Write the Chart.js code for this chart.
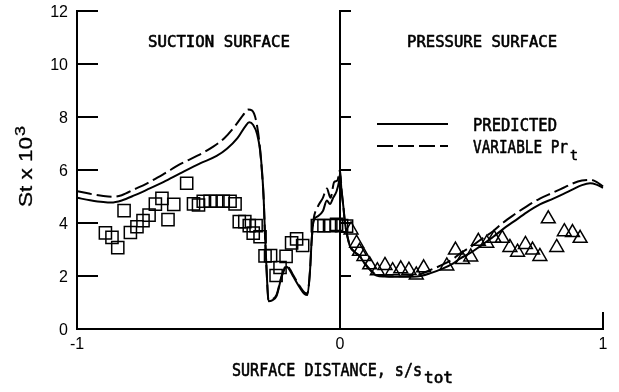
<!DOCTYPE html>
<html>
<head>
<meta charset="utf-8">
<script src="https://cdn.jsdelivr.net/npm/chart.js@4"></script>
<style>
  html, body { margin: 0; padding: 0; background: #fff; }
  canvas { display: block; }
</style>
</head>
<body>
<canvas id="chart" width="619" height="392"></canvas>
<script>
// Predicted Stanton number distribution (solid line), s/s_tot from -1 (suction) to 1 (pressure)
const predS = [-1.0, -0.95, -0.9, -0.87, -0.83, -0.78, -0.735, -0.67, -0.608, -0.532,
  -0.469, -0.43, -0.39, -0.36, -0.345, -0.33, -0.315, -0.304, -0.296, -0.29,
  -0.285, -0.279, -0.272, -0.258, -0.241, -0.222, -0.203, -0.19, -0.177, -0.152,
  -0.135, -0.124, -0.114, -0.108, -0.101, -0.085, -0.065, -0.05, -0.038, -0.026,
  -0.013, -0.004, 0.0, 0.006, 0.013, 0.019, 0.028, 0.038, 0.055, 0.076,
  0.095, 0.114, 0.139, 0.17, 0.203, 0.25, 0.291, 0.342, 0.39, 0.431,
  0.456, 0.5, 0.532, 0.583, 0.621, 0.66, 0.71, 0.76, 0.811, 0.85,
  0.887, 0.92, 0.951, 0.975, 1.0];
const predSt = [4.95, 4.86, 4.79, 4.77, 4.85, 5.05, 5.25, 5.55, 5.87, 6.25,
  6.53, 6.8, 7.2, 7.65, 7.8, 7.7, 7.35, 6.75, 5.9, 4.87,
  3.5, 2.2, 1.05, 1.08, 1.25, 1.97, 2.35, 2.2, 1.97, 1.55,
  1.32, 1.28, 2.2, 3.3, 4.05, 4.25, 4.45, 4.85, 4.72, 4.95,
  5.2, 5.55, 5.85, 5.2, 4.6, 4.0, 3.5, 3.12, 2.9, 2.73,
  2.45, 2.23, 2.02, 1.98, 1.97, 1.97, 1.98, 2.1, 2.28, 2.48,
  2.65, 2.9, 3.12, 3.48, 3.78, 4.05, 4.4, 4.7, 4.92, 5.1,
  5.28, 5.43, 5.5, 5.45, 5.33];

// Prediction with variable turbulent Prandtl number (dashed line)
const varS = [-1.0, -0.95, -0.9, -0.862, -0.83, -0.78, -0.735, -0.67, -0.608, -0.54,
  -0.482, -0.44, -0.4, -0.37, -0.35, -0.335, -0.32, -0.306, -0.297, -0.29,
  -0.285, -0.279, -0.272, -0.258, -0.241, -0.222, -0.203, -0.19, -0.177, -0.152,
  -0.135, -0.124, -0.114, -0.108, -0.101, -0.085, -0.065, -0.05, -0.036, -0.022,
  -0.01, 0.0, 0.006, 0.013, 0.019, 0.028, 0.038, 0.055, 0.076, 0.095,
  0.114, 0.139, 0.17, 0.203, 0.25, 0.291, 0.342, 0.39, 0.431, 0.456,
  0.5, 0.532, 0.583, 0.621, 0.66, 0.71, 0.76, 0.811, 0.85, 0.887,
  0.92, 0.951, 0.975, 1.0];
const varSt = [5.2, 5.1, 5.02, 4.99, 5.05, 5.28, 5.49, 5.85, 6.22, 6.55,
  6.88, 7.2, 7.65, 8.05, 8.28, 8.25, 7.9, 7.0, 5.95, 4.87,
  3.5, 2.2, 1.1, 1.12, 1.3, 2.0, 2.4, 2.25, 2.02, 1.6,
  1.38, 1.35, 2.2, 3.3, 4.1, 4.6, 4.95, 5.3, 4.95, 5.55,
  5.6, 6.0, 5.25, 4.6, 4.0, 3.5, 3.15, 2.92, 2.75, 2.48,
  2.25, 2.05, 2.0, 1.99, 1.99, 2.03, 2.22, 2.43, 2.65, 2.85,
  3.12, 3.35, 3.7, 4.02, 4.3, 4.63, 4.92, 5.15, 5.33, 5.5,
  5.6, 5.63, 5.55, 5.38];

// Measured data, suction surface (squares)
const suctionS = [-0.892, -0.867, -0.845, -0.821, -0.797, -0.772, -0.749, -0.726, -0.702, -0.677,
  -0.654, -0.632, -0.583, -0.557, -0.538, -0.52, -0.494, -0.469, -0.444, -0.418,
  -0.399, -0.383, -0.362, -0.345, -0.33, -0.319, -0.304, -0.285, -0.264, -0.243,
  -0.228, -0.205, -0.184, -0.165, -0.142, -0.086, -0.061, -0.035, -0.013, 0.006,
  0.025];
const suctionSt = [3.63, 3.46, 3.07, 4.47, 3.64, 3.86, 4.09, 4.3, 4.71, 4.93,
  4.13, 4.7, 5.5, 4.72, 4.68, 4.82, 4.82, 4.82, 4.82, 4.82,
  4.72, 4.05, 4.05, 3.9, 3.62, 3.9, 3.48, 2.76, 2.77, 2.02,
  2.32, 2.74, 3.25, 3.4, 3.15, 3.9, 3.9, 3.9, 3.95, 3.9,
  3.88];

// Measured data, pressure surface (triangles)
const pressureS = [0.042, 0.063, 0.074, 0.091, 0.113, 0.142, 0.171, 0.2, 0.231, 0.262,
  0.29, 0.318, 0.406, 0.439, 0.466, 0.497, 0.526, 0.558, 0.586, 0.617,
  0.646, 0.675, 0.705, 0.732, 0.76, 0.792, 0.824, 0.853, 0.884, 0.913];
const pressureSt = [3.74, 3.24, 2.93, 2.74, 2.42, 2.2, 2.4, 2.2, 2.27, 2.22,
  2.04, 2.31, 2.38, 2.98, 2.62, 2.72, 3.31, 3.24, 3.42, 3.42,
  3.08, 2.9, 3.19, 2.98, 2.74, 4.16, 3.08, 3.67, 3.64, 3.42];

// Axis ticks
const yTicks = [0, 2, 4, 6, 8, 10, 12];
const yTickLabels = ['0', '2', '4', '6', '8', '10', '12'];
const xTicks = [-1, 0, 1];
const xTickLabels = ['-1', '0', '1'];

const pts = (xs, ys) => xs.map((x, i) => ({ x: x, y: ys[i] }));

const LETTER = '"DejaVu Sans Mono", monospace';
const NUM = '"Liberation Sans", Arial, sans-serif';

// Draw a string squeezed/stretched horizontally to a given width,
// with a light outline so the strokes read like pen lettering
function fitText(ctx, str, x, y, w, font, outline) {
  ctx.save();
  ctx.font = font;
  const m = ctx.measureText(str).width;
  ctx.translate(x, y);
  ctx.scale(w / m, 1);
  ctx.textAlign = 'left';
  ctx.textBaseline = 'alphabetic';
  ctx.fillText(str, 0, 0);
  if (outline) {
    ctx.lineWidth = outline;
    ctx.strokeStyle = '#000';
    ctx.lineJoin = 'round';
    ctx.strokeText(str, 0, 0);
  }
  ctx.restore();
}

const framePlugin = {
  id: 'frame',
  beforeDatasetsDraw(chart) {
    const ctx = chart.ctx;
    const xs = chart.scales.x, ys = chart.scales.y;
    const X = v => xs.getPixelForValue(v);
    const Y = v => ys.getPixelForValue(v);
    const seg = (x1, y1, x2, y2) => { ctx.beginPath(); ctx.moveTo(x1, y1); ctx.lineTo(x2, y2); ctx.stroke(); };
    ctx.save();
    ctx.strokeStyle = '#000';
    ctx.lineWidth = 2;
    ctx.lineCap = 'square';
    seg(X(-1), Y(0), X(-1), Y(12));
    seg(X(-1), Y(0), X(1), Y(0));
    seg(X(0), Y(0), X(0), Y(12));
    seg(X(1), Y(0), X(1), Y(0) - 16);
    yTicks.forEach(v => {
      if (v === 0) return;
      seg(X(-1), Y(v), X(-1) + 20, Y(v));
      seg(X(0), Y(v), X(0) + 10, Y(v));
    });
    ctx.restore();
  },
  afterDraw(chart) {
    const ctx = chart.ctx;
    const xs = chart.scales.x, ys = chart.scales.y;
    const X = v => xs.getPixelForValue(v);
    const Y = v => ys.getPixelForValue(v);
    ctx.save();
    ctx.fillStyle = '#000';

    // tick labels
    ctx.font = '16px ' + NUM;
    ctx.textAlign = 'right';
    ctx.textBaseline = 'middle';
    yTicks.forEach((v, i) => ctx.fillText(yTickLabels[i], X(-1) - 9, Y(v) + 2));
    ctx.textAlign = 'center';
    ctx.textBaseline = 'alphabetic';
    xTicks.forEach((v, i) => ctx.fillText(xTickLabels[i], X(v), Y(0) + 20));

    // surface captions
    fitText(ctx, 'SUCTION SURFACE', 148, 47, 142, '15px ' + LETTER, 0.6);
    fitText(ctx, 'PRESSURE SURFACE', 407, 47, 150, '15px ' + LETTER, 0.6);

    // legend
    ctx.strokeStyle = '#000';
    ctx.lineWidth = 2;
    ctx.beginPath(); ctx.moveTo(377, 124); ctx.lineTo(448, 124); ctx.stroke();
    ctx.setLineDash([16, 5]);
    ctx.beginPath(); ctx.moveTo(377, 146); ctx.lineTo(448, 146); ctx.stroke();
    ctx.setLineDash([]);
    fitText(ctx, 'PREDICTED', 473, 131, 84, '17px ' + LETTER, 0.6);
    fitText(ctx, 'VARIABLE Pr', 473, 153, 95, '17px ' + LETTER, 0.6);
    fitText(ctx, 't', 570, 160, 8, '14px ' + LETTER, 0.6);

    // x-axis title
    fitText(ctx, 'SURFACE DISTANCE, s/s', 232, 376, 190, '17px ' + LETTER, 0.6);
    fitText(ctx, 'tot', 424, 383, 29, '15px ' + LETTER, 0.6);

    // y-axis title, rotated
    ctx.save();
    ctx.translate(32, 207);
    ctx.rotate(-Math.PI / 2);
    fitText(ctx, 'St x 10', 0, 0, 70, '18px ' + NUM, 0.3);
    fitText(ctx, '3', 71, -7, 10, '14px ' + NUM, 0.3);
    ctx.restore();

    ctx.restore();
  }
};

new Chart(document.getElementById('chart'), {
  type: 'scatter',
  data: {
    datasets: [
      {
        label: 'PREDICTED',
        data: pts(predS, predSt),
        showLine: true,
        borderColor: '#000',
        borderWidth: 2,
        pointRadius: 0,
        cubicInterpolationMode: 'monotone',
        clip: false
      },
      {
        label: 'VARIABLE Pr_t',
        data: pts(varS, varSt),
        showLine: true,
        borderColor: '#000',
        borderWidth: 2,
        borderDash: [15, 5],
        pointRadius: 0,
        cubicInterpolationMode: 'monotone',
        clip: false
      },
      {
        label: 'Suction surface data',
        data: pts(suctionS, suctionSt),
        showLine: false,
        pointStyle: 'rect',
        pointRadius: 8.6,
        borderColor: '#000',
        backgroundColor: 'rgba(255,255,255,0)',
        borderWidth: 1.5,
        clip: false
      },
      {
        label: 'Pressure surface data',
        data: pts(pressureS, pressureSt),
        showLine: false,
        pointStyle: 'triangle',
        pointRadius: 8,
        borderColor: '#000',
        backgroundColor: 'rgba(255,255,255,0)',
        borderWidth: 1.5,
        clip: false
      }
    ]
  },
  options: {
    responsive: false,
    animation: false,
    events: [],
    layout: { padding: { left: 77, right: 16, top: 11, bottom: 63 } },
    scales: {
      x: { type: 'linear', min: -1, max: 1, display: false },
      y: { type: 'linear', min: 0, max: 12, display: false }
    },
    plugins: {
      legend: { display: false },
      tooltip: { enabled: false },
      title: { display: false }
    }
  },
  plugins: [framePlugin]
});
</script>
</body>
</html>
